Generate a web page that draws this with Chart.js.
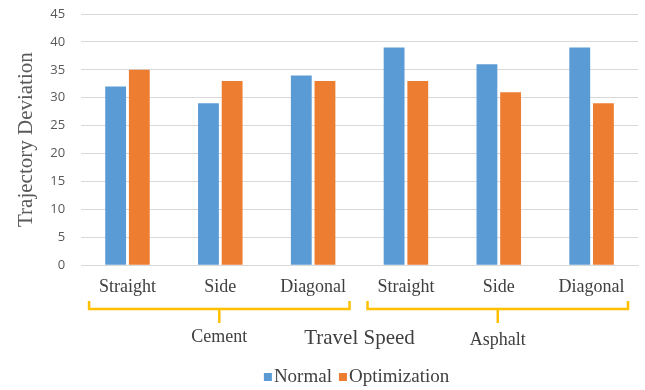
<!DOCTYPE html>
<html>
<head>
<meta charset="utf-8">
<script src="https://cdn.jsdelivr.net/npm/chart.js@4/dist/chart.umd.min.js"></script>
<style>
html,body{margin:0;padding:0;background:#fff;}
#wrap{width:645px;height:390px;}
</style>
</head>
<body>
<div id="wrap"><canvas id="chart"></canvas></div>
<script>
const labels=["Straight","Side","Diagonal","Straight","Side","Diagonal"];
const groups=[{name:"Cement",from:0,to:2,y:337},{name:"Asphalt",from:3,to:5,y:340}];
const normal=[32,29,34,39,36,39];
const optimization=[35,33,33,33,31,29];
const yTicks=[0,5,10,15,20,25,30,35,40,45];

const serif="'Liberation Serif','Times New Roman',serif";
const sans="'Open Sans','Liberation Sans',sans-serif";

// yellow braces under the category labels, with group names
const groupBraces={
id:"groupBraces",
afterDraw(chart){
const ctx=chart.ctx;
const x=chart.scales.x;
const half=(x.getPixelForValue(1)-x.getPixelForValue(0))/2;
const yLine=309;
ctx.save();
ctx.strokeStyle="#FFC000";
ctx.lineWidth=2.5;
groups.forEach(g=>{
const x0=x.getPixelForValue(g.from)-half+8;
const x1=x.getPixelForValue(g.to)+half-10;
const mid=(x0+x1)/2;
ctx.beginPath();
ctx.moveTo(x0,yLine-8);
ctx.lineTo(x0,yLine);
ctx.lineTo(x1,yLine);
ctx.lineTo(x1,yLine-8);
ctx.moveTo(mid,yLine);
ctx.lineTo(mid,yLine+14);
ctx.stroke();
ctx.fillStyle="#404040";
ctx.font="18px "+serif;
ctx.textAlign="center";
ctx.textBaseline="middle";
ctx.fillText(g.name,mid,g.y);
});
ctx.restore();
}
};

// legend centred under the plot area
const bottomLegend={
id:"bottomLegend",
afterDraw(chart){
const ctx=chart.ctx;
const area=chart.chartArea;
const sets=chart.data.datasets;
const y=377;
ctx.save();
ctx.font="19px "+serif;
ctx.textBaseline="middle";
const widths=sets.map(d=>ctx.measureText(d.label).width);
const total=widths.reduce((a,w)=>a+w+10,0)+7*(sets.length-1);
let x=(area.left+area.right)/2-3-total/2;
sets.forEach((d,i)=>{
ctx.fillStyle=d.backgroundColor;
ctx.fillRect(x,y-4,8,8);
x+=10;
ctx.fillStyle="#404040";
ctx.fillText(d.label,x,y);
x+=widths[i]+7;
});
ctx.restore();
}
};

new Chart(
document.getElementById("chart"),
{
type:"bar",
data:{
labels:labels,
datasets:[
{
label:"Normal",
data:normal,
backgroundColor:"#5B9BD5",
barPercentage:0.88,
categoryPercentage:0.51
},
{
label:"Optimization",
data:optimization,
backgroundColor:"#ED7D31",
barPercentage:0.88,
categoryPercentage:0.51
}
]
},
options:{
responsive:true,
maintainAspectRatio:false,
animation:false,
layout:{padding:{left:0,right:7,top:14,bottom:26}},
plugins:{
tooltip:{enabled:false},
legend:{display:false}
},
scales:{
x:{
grid:{display:false},
border:{color:"#D9D9D9"},
ticks:{
font:{family:serif,size:18},
color:"#404040",
padding:3
},
title:{
display:true,
text:"Travel Speed",
font:{family:serif,size:21},
color:"#404040",
padding:{top:25,bottom:13}
}
},
y:{
min:0,
max:45,
afterBuildTicks(axis){
axis.ticks=yTicks.map(v=>({value:v}));
},
afterFit(axis){
axis.paddingTop=0;
},
grid:{color:"#D9D9D9",drawTicks:false},
border:{display:false},
ticks:{
font:{family:sans,size:13},
color:"#595959",
padding:16
},
title:{
display:true,
text:"Trajectory Deviation",
font:{family:serif,size:21},
color:"#595959",
padding:{top:14,bottom:-5}
}
}
}
},
plugins:[groupBraces,bottomLegend]
}
);
</script>
</body>
</html>
